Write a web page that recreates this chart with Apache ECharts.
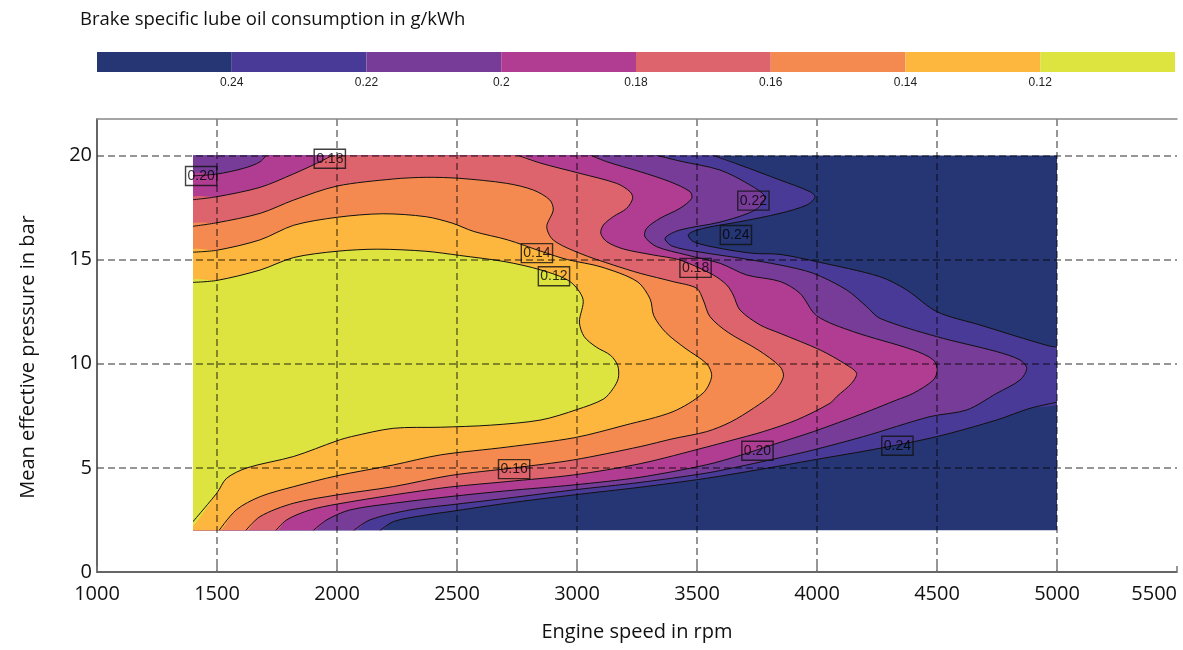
<!DOCTYPE html>
<html>
<head>
<meta charset="utf-8">
<script src="https://cdn.jsdelivr.net/npm/echarts@6/dist/echarts.min.js"></script>
<style>
  html, body { margin: 0; padding: 0; background: #fff; }
  #chart { width: 1183px; height: 650px; }
</style>
</head>
<body>
<div id="chart"></div>
<script>
// measured area of the map (rpm, bar)
const rpmRange = [1400, 5000];
const bmepRange = [2, 20];

// colour bar: level edges (left to right) and band colours
const cbLevels = [0.26, 0.24, 0.22, 0.20, 0.18, 0.16, 0.14, 0.12, 0.10];
const cbColors = ['#263574', '#4a3a97', '#763c98', '#b13d93', '#dd636d', '#f48a50', '#fdb73e', '#dde33f'];

// contour lines, [rpm, bar]
const c12 = [[1400,13.9],[1500,14.0],[1680,14.5],[1820,15.1],[2000,15.4],[2170,15.5],[2370,15.4],[2510,15.2],[2700,14.9],[2850,14.5],[2970,13.95],[3025,13.1],[3010,12.0],[3030,11.3],[3080,10.8],[3140,10.4],[3170,9.9],[3172,9.3],[3150,8.8],[3110,8.3],[3000,7.8],[2850,7.3],[2640,7.05],[2430,6.95],[2235,6.9],[2060,6.5],[2000,6.3],[1820,5.55],[1625,5.0],[1540,4.5],[1500,3.8],[1400,2.25]];
const c14 = [[1400,15.35],[1500,15.45],[1680,15.95],[1820,16.65],[2000,17.03],[2190,17.2],[2370,17.06],[2480,16.75],[2570,16.35],[2710,15.95],[2850,15.4],[2960,15.0],[3100,14.65],[3250,13.95],[3305,13.1],[3320,12.3],[3370,11.5],[3450,10.75],[3540,10.0],[3561,9.4],[3526,8.6],[3400,7.7],[3200,7.05],[2990,6.45],[2710,6.0],[2430,5.62],[2235,5.14],[2000,4.62],[1820,4.1],[1680,3.62],[1580,2.98],[1500,2.0]];
const c16 = [[1400,16.58],[1500,16.77],[1680,17.22],[1820,17.86],[2000,18.53],[2235,18.87],[2374,18.95],[2512,18.9],[2707,18.66],[2818,18.34],[2887,17.86],[2901,17.38],[2874,16.58],[2901,15.94],[3012,15.3],[3151,14.74],[3263,14.34],[3401,13.94],[3499,13.62],[3526,13.06],[3554,12.26],[3630,11.5],[3755,10.66],[3846,9.86],[3860,9.38],[3818,8.58],[3740,7.9],[3640,7.2],[3540,6.74],[3400,6.4],[3263,6.02],[2985,5.38],[2737,5.0],[2470,4.63],[2235,4.1],[2000,3.7],[1818,3.3],[1679,2.66],[1610,2.0]];
const c18a = [[1400,17.86],[1500,18.02],[1680,18.47],[1818,19.11],[1915,19.62],[2005,20]];
const c18b = [[2721,20],[2846,19.64],[3012,19.14],[3165,18.66],[3221,18.26],[3232,17.94],[3207,17.46],[3151,17.06],[3110,16.66],[3099,16.26],[3124,15.86],[3193,15.51],[3318,15.22],[3429,14.98],[3568,14.26],[3624,13.78],[3651,13.3],[3679,12.58],[3763,11.86],[3846,11.46],[4013,10.66],[4124,9.94],[4165,9.54],[4144,9.06],[4082,8.42],[4054,8.1],[3915,7.3],[3776,6.74],[3637,6.3],[3540,6.0],[3263,5.2],[2985,4.66],[2707,4.34],[2470,4.08],[2235,3.7],[2000,3.26],[1888,2.98],[1790,2.5],[1735,2]];
const c20a = [[1400,19.01],[1500,19.11],[1610,19.38],[1680,19.7],[1714,20]];
const c20b = [[3030,20],[3124,19.7],[3263,19.22],[3387,18.74],[3471,18.26],[3478,17.94],[3429,17.46],[3346,16.98],[3290,16.5],[3283,16.1],[3332,15.62],[3457,15.22],[3596,14.82],[3707,14.26],[3846,13.95],[3929,13.38],[3999,12.3],[4151,11.54],[4401,10.66],[4485,10.18],[4501,9.7],[4485,9.22],[4401,8.58],[4332,8.26],[4193,7.62],[3985,6.74],[3818,6.12],[3680,5.6],[3540,5.15],[3263,4.55],[2985,4.18],[2707,3.9],[2470,3.62],[2235,3.3],[2054,2.98],[1957,2.5],[1888,2]];
const c22 = [[3283,20],[3429,19.73],[3596,19.3],[3721,18.58],[3783,18.0],[3742,17.38],[3596,16.8],[3429,16.42],[3367,16.03],[3396,15.65],[3513,15.36],[3679,15.07],[3846,14.74],[3985,14.34],[4124,13.54],[4207,12.74],[4262,12.18],[4499,11.3],[4749,10.58],[4846,10.18],[4874,9.78],[4846,9.22],[4749,8.58],[4624,7.78],[4471,7.46],[4193,6.5],[3985,5.86],[3850,5.5],[3700,5.12],[3540,4.75],[3263,4.3],[2985,3.94],[2707,3.54],[2470,3.22],[2304,2.98],[2137,2.5],[2054,2]];
const c24a = [[3533,20],[3679,19.54],[3846,18.82],[3971,18.26],[3992,18.0],[3957,17.62],[3846,17.22],[3679,16.82],[3526,16.5],[3464,16.21],[3485,15.86],[3596,15.54],[3735,15.3],[3846,15.25],[3999,14.9],[4262,14.18],[4374,13.54],[4499,12.5],[4679,11.86],[4968,10.85],[5000,10.8]];
const c24b = [[5000,8.18],[4888,7.86],[4749,7.3],[4499,6.5],[4262,5.94],[3985,5.38],[3760,4.92],[3540,4.5],[3263,4.07],[2985,3.7],[2707,3.3],[2470,2.9],[2374,2.74],[2235,2.42],[2165,2]];

// contour label anchors [rpm, bar, text]
const contourLabels = [
  [1434, 19.01, '0.20'], [1970, 19.84, '0.18'], [2833, 15.31, '0.14'], [2904, 14.2, '0.12'],
  [3494, 14.6, '0.18'], [3735, 17.83, '0.22'], [3662, 16.18, '0.24'], [2738, 4.94, '0.16'],
  [3752, 5.82, '0.20'], [4335, 6.06, '0.24']
];

const x0 = rpmRange[0], x1 = rpmRange[1], y0 = bmepRange[0], y1 = bmepRange[1];
// filled regions below each level, largest first
const regions = [
  [[x0, y1], [x1, y1], [x1, y0], [x0, y0]],
  [[x0, y1]].concat(c24a, c24b, [[x0, y0]]),
  [[x0, y1]].concat(c22, [[x0, y0]]),
  c20a.concat(c20b, [[x0, y0]]),
  c18a.concat(c18b, [[x0, y0]]),
  c16.concat([[x0, y0]]),
  c14.concat([[x0, y0]]),
  c12
];
const lines = [c12, c14, c16, c18a, c18b, c20a, c20b, c22, c24a, c24b];
const SMOOTH = 0.3;

// points on the map border are pushed a little outward, then clipped back
function toPx(api, p) {
  const c = api.coord(p);
  if (p[0] <= x0) c[0] -= 3;
  if (p[0] >= x1) c[0] += 3;
  if (p[1] <= y0) c[1] += 3;
  if (p[1] >= y1) c[1] -= 3;
  return c;
}
function mapClip(api) {
  const a = api.coord([x0, y1]);
  const b = api.coord([x1, y0]);
  return { type: 'rect', shape: { x: a[0], y: a[1], width: b[0] - a[0], height: b[1] - a[1] } };
}

const fillSeries = regions.map((pts, i) => ({
  type: 'custom',
  xAxisIndex: 0, yAxisIndex: 0,
  z: 2 + i,
  silent: true,
  data: [pts[0]],
  renderItem: (params, api) => ({
    type: 'polygon',
    clipPath: mapClip(api),
    shape: { points: pts.map(p => toPx(api, p)), smooth: i === 0 ? 0 : SMOOTH },
    style: { fill: cbColors[i] }
  })
}));

const lineSeries = lines.map(pts => ({
  type: 'custom',
  xAxisIndex: 0, yAxisIndex: 0,
  z: 12,
  silent: true,
  data: [pts[0]],
  renderItem: (params, api) => ({
    type: 'polyline',
    clipPath: mapClip(api),
    shape: { points: pts.map(p => toPx(api, p)), smooth: SMOOTH },
    style: { fill: null, stroke: '#111', lineWidth: 1 }
  })
}));

const bandData = cbColors.map((c, i) => [cbLevels[i], cbLevels[i + 1]]);

const chart = echarts.init(document.getElementById('chart'));
chart.setOption({
  animation: false,
  title: {
    text: 'Brake specific lube oil consumption in g/kWh',
    left: 75, top: 5,
    textStyle: { fontFamily: 'Open Sans', fontSize: 18.5, fontWeight: 'normal', color: '#111' }
  },
  grid: [
    { left: 97, right: 6, top: 119, bottom: 78 },
    { left: 97, right: 8, top: 52, height: 20 }
  ],
  xAxis: [
    {
      type: 'value', gridIndex: 0, min: 1000, max: 5500, interval: 500, z: 20,
      name: 'Engine speed in rpm', nameLocation: 'middle', nameGap: 50,
      nameTextStyle: { fontFamily: 'Open Sans', fontSize: 20, color: '#111' },
      axisLine: { lineStyle: { color: '#333', width: 1.5 } },
      axisTick: { show: true, inside: true, length: 6, lineStyle: { color: '#777', width: 1.5 } },
      axisLabel: {
        fontFamily: 'Open Sans', fontSize: 20, color: '#111', margin: 12, alignMaxLabel: 'right',
        formatter: v => String(v)
      },
      splitLine: { show: true, showMinLine: false, showMaxLine: false, lineStyle: { color: 'rgba(0,0,0,0.55)', width: 1.5, type: [7, 4] } }
    },
    {
      type: 'value', gridIndex: 1, min: 0.10, max: 0.26, interval: 0.02, inverse: true,
      axisLine: { show: false }, axisTick: { show: false }, splitLine: { show: false },
      axisLabel: { showMinLabel: false, showMaxLabel: false, fontFamily: 'Liberation Sans', fontSize: 12, color: '#222', margin: 5 }
    },
    {
      type: 'value', gridIndex: 0, position: 'top', min: 1000, max: 5500, z: 20,
      axisLine: { show: true, lineStyle: { color: '#888', width: 1.5 } },
      axisTick: { show: false }, axisLabel: { show: false }, splitLine: { show: false }
    }
  ],
  yAxis: [
    {
      type: 'value', gridIndex: 0, min: 0, max: 21.75, interval: 5, z: 20,
      axisLine: { show: true, lineStyle: { color: '#333', width: 1.5 } },
      axisTick: { show: false },
      axisLabel: { showMaxLabel: false, fontFamily: 'Open Sans', fontSize: 20, color: '#111', margin: 5 },
      splitLine: { show: true, showMinLine: false, showMaxLine: false, lineStyle: { color: 'rgba(0,0,0,0.55)', width: 1.5, type: [7, 4] } }
    },
    { type: 'value', gridIndex: 1, min: 0, max: 1, show: false }
  ],
  graphic: [{
    type: 'text', x: 28, y: 357, rotation: Math.PI / 2,
    style: {
      text: 'Mean effective pressure in bar', fill: '#111',
      font: '20px "Open Sans"', align: 'center', verticalAlign: 'middle'
    }
  }],
  series: fillSeries.concat(lineSeries, [
    {
      type: 'scatter', xAxisIndex: 0, yAxisIndex: 0, z: 14, silent: true,
      symbolSize: 0,
      data: contourLabels.map(p => ({ value: [p[0], p[1]], name: p[2] })),
      label: {
        show: true, position: 'inside', formatter: '{b}',
        fontFamily: 'Liberation Sans', fontSize: 14, color: '#000',
        borderColor: '#111', borderWidth: 1.4, padding: [3, 2, 2, 2]
      }
    },
    {
      type: 'custom', xAxisIndex: 1, yAxisIndex: 1, silent: true,
      data: bandData,
      renderItem: (params, api) => {
        const a = api.coord([api.value(0), 1]);
        const b = api.coord([api.value(1), 0]);
        return {
          type: 'rect',
          shape: { x: Math.min(a[0], b[0]), y: a[1], width: Math.abs(b[0] - a[0]), height: b[1] - a[1] },
          style: { fill: cbColors[params.dataIndex] }
        };
      }
    }
  ])
});
</script>
</body>
</html>
